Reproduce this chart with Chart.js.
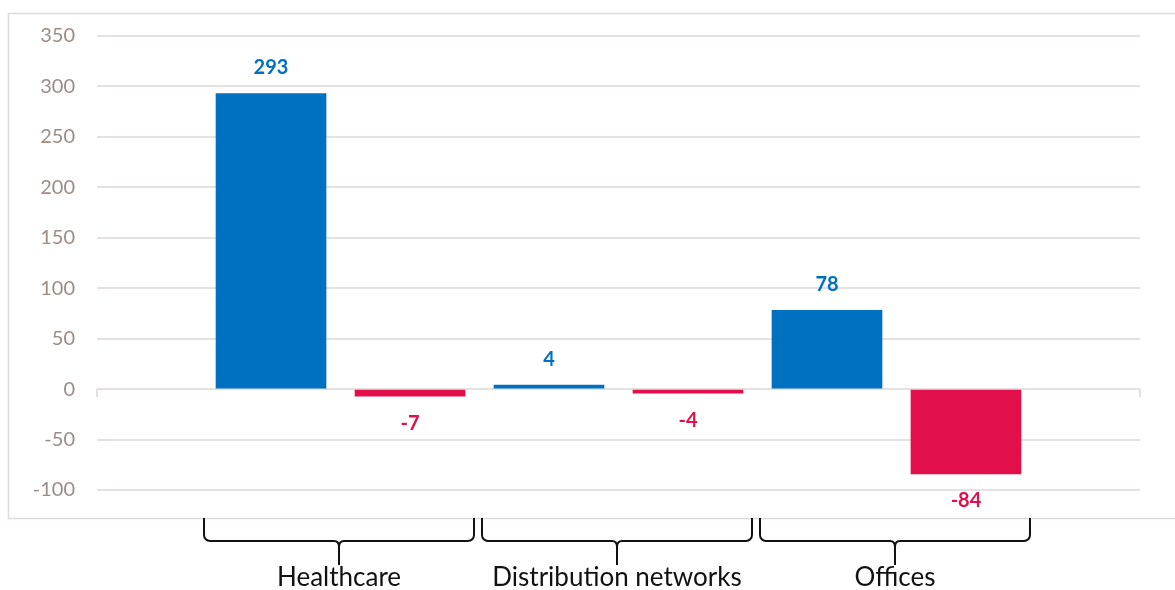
<!DOCTYPE html>
<html>
<head>
<meta charset="utf-8">
<script src="https://cdn.jsdelivr.net/npm/chart.js@4.4.1/dist/chart.umd.min.js"></script>
<style>
  html, body { margin: 0; padding: 0; background: #fff; }
  #wrap { width: 1175px; height: 590px; position: relative; }
</style>
</head>
<body>
<div id="wrap"><canvas id="chart"></canvas></div>
<script>
// values
const categories = ['Healthcare', 'Distribution networks', 'Offices'];
const seriesA = [293, 4, 78];     // blue bars
const seriesB = [-7, -4, -84];    // red bars
const yTicks = [-100, -50, 0, 50, 100, 150, 200, 250, 300, 350];

const BLUE = '#0070C0';
const RED = '#E2104A';
const GRID = '#E6E1E1';

// bars sit at slots 1..6 on a linear x scale (two per category)
const dataA = seriesA.map((v, i) => ({ x: 2 * i + 1, y: v }));
const dataB = seriesB.map((v, i) => ({ x: 2 * i + 2, y: v }));

// frame around the chart + little ticks at the ends of the zero line
const framePlugin = {
  id: 'frame',
  beforeDraw(chart) {
    const c = chart.ctx;
    c.save();
    c.strokeStyle = '#E0DADA';
    c.lineWidth = 1.5;
    c.strokeRect(8.5, 13.5, 1200, 505);
    c.restore();
  },
  afterDatasetsDraw(chart) {
    const c = chart.ctx;
    const area = chart.chartArea;
    const y0 = chart.scales.y.getPixelForValue(0);
    c.save();
    c.strokeStyle = GRID;
    c.lineWidth = 2;
    c.beginPath();
    c.moveTo(area.left, y0); c.lineTo(area.left, y0 + 8);
    c.moveTo(area.right, y0); c.lineTo(area.right, y0 + 8);
    c.stroke();
    c.restore();
  }
};

// value labels above / below each bar
const valueLabels = {
  id: 'valueLabels',
  afterDatasetsDraw(chart) {
    const c = chart.ctx;
    c.save();
    c.font = 'bold 20px Lato';
    c.textAlign = 'center';
    c.textBaseline = 'middle';
    chart.data.datasets.forEach((ds, di) => {
      chart.getDatasetMeta(di).data.forEach((bar, i) => {
        const v = ds.data[i].y;
        c.fillStyle = ds.backgroundColor;
        const y = v >= 0 ? bar.y - 26 : bar.y + 27;
        c.fillText(String(v), bar.x, y);
      });
    });
    c.restore();
  }
};

// curly braces with category names below the plot
const braces = {
  id: 'braces',
  afterDraw(chart) {
    const c = chart.ctx;
    const xs = chart.scales.x;
    const top = 518, mid = 541, bottom = 565, r = 6;
    c.save();
    c.strokeStyle = '#111';
    c.lineWidth = 2;
    c.lineJoin = 'round';
    categories.forEach((name, i) => {
      const x0 = xs.getPixelForValue(2 * i + 1) - 67;
      const x1 = xs.getPixelForValue(2 * i + 2) + 64;
      const cx = (x0 + x1) / 2;
      c.beginPath();
      c.moveTo(x0, top);
      c.arcTo(x0, mid, x0 + r, mid, r);
      c.lineTo(cx - 5, mid);
      c.quadraticCurveTo(cx, mid, cx, mid + 6);
      c.lineTo(cx, bottom);
      c.moveTo(cx, mid + 6);
      c.quadraticCurveTo(cx, mid, cx + 5, mid);
      c.lineTo(x1 - r, mid);
      c.arcTo(x1, mid, x1, top, r);
      c.lineTo(x1, top);
      c.stroke();
      c.fillStyle = '#111';
      c.font = '26px Lato';
      c.textAlign = 'center';
      c.textBaseline = 'middle';
      c.fillText(name, cx, 578);
    });
    c.restore();
  }
};

new Chart(document.getElementById('chart'), {
  type: 'bar',
  data: {
    datasets: [
      { label: 'A', data: dataA, backgroundColor: BLUE, barThickness: 110, grouped: false },
      { label: 'B', data: dataB, backgroundColor: RED, barThickness: 110, grouped: false }
    ]
  },
  options: {
    responsive: true,
    maintainAspectRatio: false,
    animation: false,
    layout: { padding: { top: 36, right: 35, bottom: 100, left: 0 } },
    plugins: { legend: { display: false }, tooltip: { enabled: false } },
    scales: {
      x: {
        type: 'linear',
        offset: false,
        min: -0.252,
        max: 7.252,
        display: false
      },
      y: {
        min: -100,
        max: 350,
        afterBuildTicks(scale) { scale.ticks = yTicks.map(v => ({ value: v })); },
        afterFit(scale) { scale.width = 97; },
        border: { display: false },
        grid: { color: GRID, lineWidth: 2, drawTicks: false },
        ticks: {
          color: '#9C8C86',
          padding: 22,
          font: { family: 'Lato', size: 20 }
        }
      }
    }
  },
  plugins: [framePlugin, valueLabels, braces]
});
</script>
</body>
</html>
